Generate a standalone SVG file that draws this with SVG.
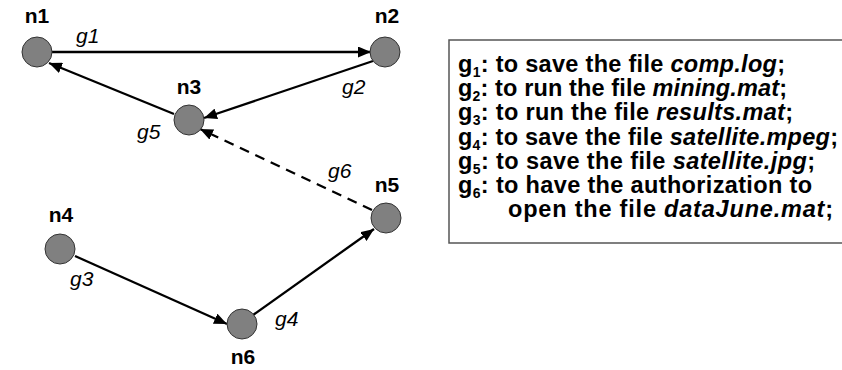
<svg xmlns="http://www.w3.org/2000/svg" width="842" height="370" viewBox="0 0 842 370">
<style>
.node{fill:#808080;stroke:#333;stroke-width:1}
.nl{font-family:"Liberation Sans",Arial,sans-serif;font-weight:bold;font-size:21px;fill:#000;text-anchor:middle}
.el{font-family:"Liberation Sans",Arial,sans-serif;font-style:italic;font-size:21px;fill:#000}
.e{stroke:#000;stroke-width:2.3;fill:none;marker-end:url(#ah)}
.d{stroke-dasharray:10 7}
.lg{font-family:"Liberation Sans",Arial,sans-serif;font-weight:bold;font-size:23.5px;fill:#000}
.sub{font-size:14px}
</style>
<defs>
<marker id="ah" viewBox="0 0 13 11" refX="13" refY="5.5" markerWidth="13" markerHeight="11" markerUnits="userSpaceOnUse" orient="auto">
<path d="M0,0 L13,5.5 L0,11 z" fill="#000"/>
</marker>
</defs>
<rect width="842" height="370" fill="#fff"/>
<g id="connectors">
<line class="e" x1="52" y1="52" x2="371" y2="52"/>
<line class="e" x1="373" y1="61" x2="204" y2="118"/>
<line class="e" x1="174" y1="114" x2="49" y2="63"/>
<line class="e d" x1="372" y1="210" x2="200" y2="129"/>
<line class="e" x1="75" y1="256" x2="227" y2="324"/>
<line class="e" x1="253" y1="315" x2="374" y2="229"/>
<text class="el" x="76" y="43">g1</text>
<text class="el" x="342" y="94">g2</text>
<text class="el" x="137" y="139">g5</text>
<text class="el" x="328" y="178">g6</text>
<text class="el" x="70" y="286">g3</text>
<text class="el" x="275" y="326">g4</text>
</g>
<g id="n1"><circle class="node" cx="37" cy="52" r="15"/><text class="nl" x="37" y="23">n1</text></g>
<g id="n2"><circle class="node" cx="385" cy="52" r="15"/><text class="nl" x="387" y="23">n2</text></g>
<g id="n3"><circle class="node" cx="189" cy="120" r="15"/><text class="nl" x="189" y="94">n3</text></g>
<g id="n4"><circle class="node" cx="60" cy="249" r="15"/><text class="nl" x="61" y="222">n4</text></g>
<g id="n5"><circle class="node" cx="386" cy="218" r="15"/><text class="nl" x="387" y="192">n5</text></g>
<g id="n6"><circle class="node" cx="242" cy="324" r="15"/><text class="nl" x="243" y="364">n6</text></g>
<g id="legend">
<rect x="449" y="40" width="420" height="203" fill="#fff" stroke="#555" stroke-width="1.5"/>
<text class="lg" x="458" y="72" textLength="327" lengthAdjust="spacing">g<tspan class="sub" dy="5">1</tspan><tspan dy="-5">: to save the file </tspan><tspan font-style="italic">comp.log</tspan>;</text>
<text class="lg" x="458" y="96" textLength="329" lengthAdjust="spacing">g<tspan class="sub" dy="5">2</tspan><tspan dy="-5">: to run the file </tspan><tspan font-style="italic">mining.mat</tspan>;</text>
<text class="lg" x="458" y="120" textLength="335" lengthAdjust="spacing">g<tspan class="sub" dy="5">3</tspan><tspan dy="-5">: to run the file </tspan><tspan font-style="italic">results.mat</tspan>;</text>
<text class="lg" x="458" y="145" textLength="380" lengthAdjust="spacing">g<tspan class="sub" dy="5">4</tspan><tspan dy="-5">: to save the file </tspan><tspan font-style="italic">satellite.mpeg</tspan>;</text>
<text class="lg" x="458" y="169" textLength="357" lengthAdjust="spacing">g<tspan class="sub" dy="5">5</tspan><tspan dy="-5">: to save the file </tspan><tspan font-style="italic">satellite.jpg</tspan>;</text>
<text class="lg" x="458" y="193" textLength="354" lengthAdjust="spacing">g<tspan class="sub" dy="5">6</tspan><tspan dy="-5">: to have the authorization to</tspan></text>
<text class="lg" x="508" y="217" textLength="325" lengthAdjust="spacing">open the file <tspan font-style="italic">dataJune.mat</tspan>;</text>
</g>
</svg>
